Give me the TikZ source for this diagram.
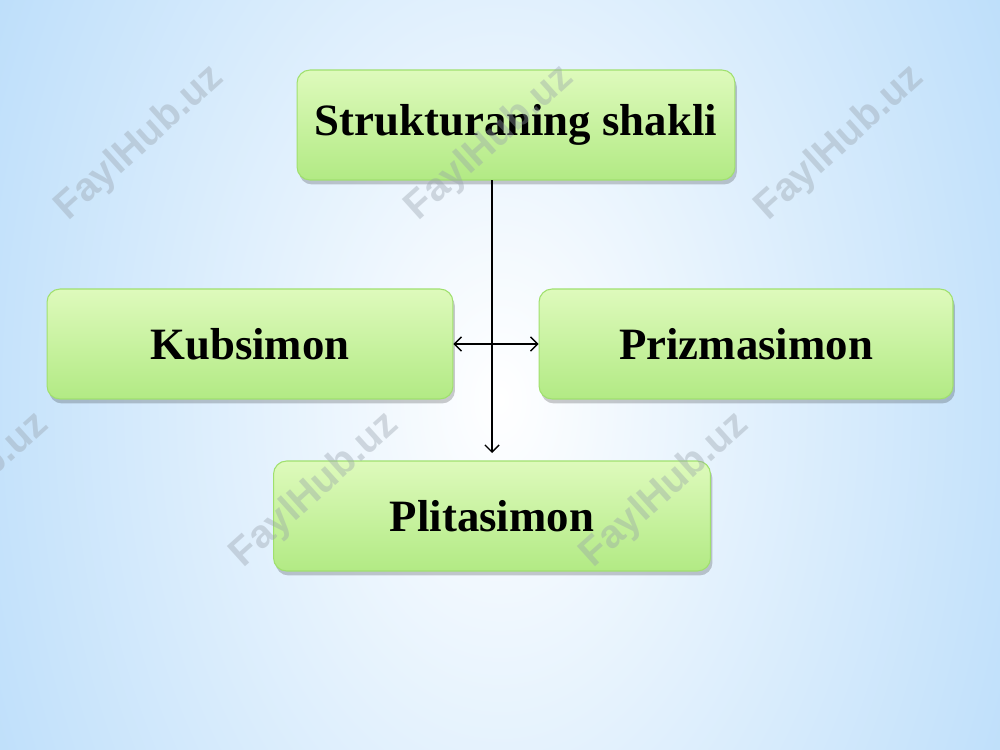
\documentclass[tikz,border=0pt]{standalone}
\usepackage{fontspec}
\setmainfont{Liberation Serif}
\newfontfamily\wmfont{Liberation Sans}
\usetikzlibrary{shadows,arrows.meta,fadings}
\definecolor{bgblue}{RGB}{158,207,248}
\definecolor{boxtop}{RGB}{222,250,188}
\definecolor{boxbot}{RGB}{178,234,132}
\definecolor{boxline}{RGB}{160,224,110}
\definecolor{wmgray}{RGB}{150,160,170}
\tikzfading[name=bandfade, top color=transparent!100, middle color=transparent!0, bottom color=transparent!100]
\begin{document}
\begin{tikzpicture}[x=0.02cm,y=-0.02cm,
  >={Straight Barb[length=4pt,width=8pt]},
  box/.style={rectangle, rounded corners=0.26cm, draw=boxline, line width=0.6pt,
    top color=boxtop, bottom color=boxbot, inner sep=0pt,
    drop shadow={shadow xshift=0.04cm, shadow yshift=-0.09cm, opacity=0.2, fill=black},
    font=\bfseries\fontsize{25.5}{30}\selectfont},
  wm/.style={rotate=42, text=wmgray, opacity=0.38, font=\wmfont\bfseries\fontsize{22.5}{26}\selectfont},
  conn/.style={line width=0.8pt}]
\useasboundingbox (0,0) rectangle (1000,750);
\begin{scope}
\clip (0,0) rectangle (1000,750);
\fill[bgblue] (0,0) rectangle (1000,750);
\shade[inner color=white, outer color=bgblue] (-340,-900) rectangle (1340,1700);
\fill[white, opacity=0.5, path fading=bandfade] (0,420) rectangle (1000,520);
\fill[bgblue, opacity=0.35, path fading=bandfade] (0,510) rectangle (1000,590);
\fill[white, opacity=0.35, path fading=bandfade] (0,585) rectangle (1000,660);
\end{scope}
% boxes
\node[box, minimum width=8.76cm, minimum height=2.2cm] (top) at (516,125) {\raisebox{-1.5pt}{Strukturaning shakli}};
\node[box, minimum width=8.12cm, minimum height=2.2cm] (kub) at (250,344) {Kubsimon};
\node[box, minimum width=8.28cm, minimum height=2.2cm] (pri) at (746,344) {Prizmasimon};
\node[box, minimum width=8.74cm, minimum height=2.2cm] (pli) at (492,516) {Plitasimon};
% watermarks
\node[wm] (w1) at (140,143) {FaylHub.uz};
\node[wm] (w2) at (490,143) {FaylHub.uz};
\node[wm] (w3) at (840,143) {FaylHub.uz};
\node[wm] (w4) at (-35,490) {FaylHub.uz};
\node[wm] (w5) at (315,490) {FaylHub.uz};
\node[wm] (w6) at (665,490) {FaylHub.uz};
% connectors
\coordinate (vtop) at (492,180);
\coordinate (vbot) at (492,453);
\draw[conn, ->] (vtop) -- (vbot);
\draw[conn, <->] (kub.east) -- (pri.west);
\end{tikzpicture}
\end{document}
